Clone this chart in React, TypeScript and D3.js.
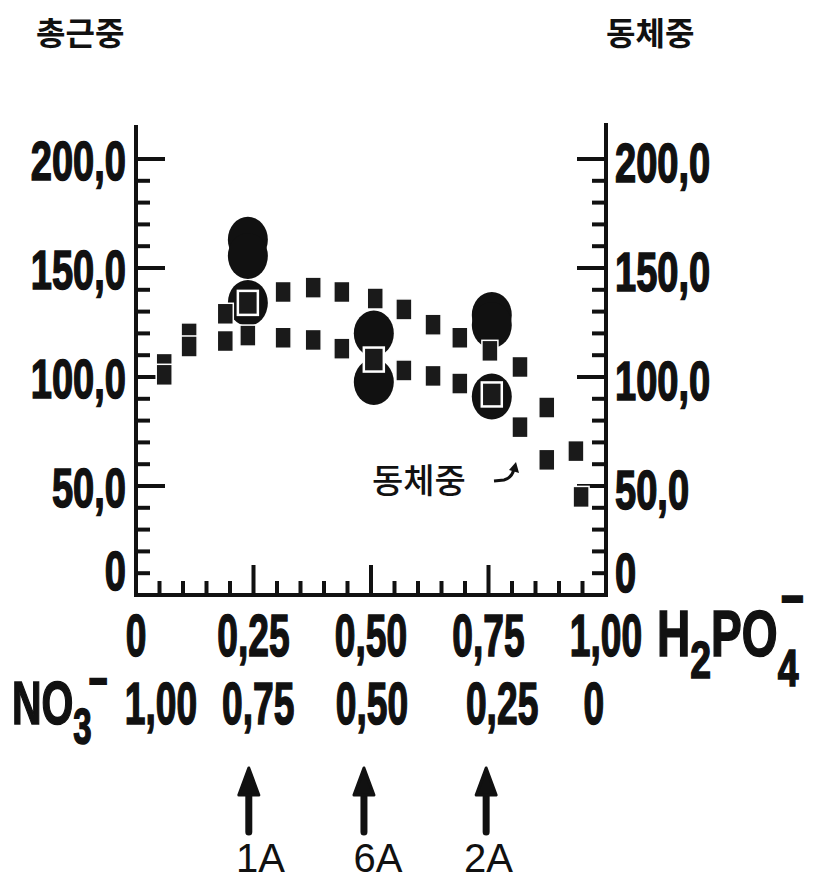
import React from "react";
import * as d3 from "d3";

// H2PO4- fraction axis (bottom), values on both y axes
const squareX = [0.06, 0.06, 0.113, 0.113, 0.19, 0.19, 0.238, 0.313, 0.313, 0.377, 0.377, 0.438, 0.438, 0.509, 0.57, 0.57, 0.632, 0.632, 0.689, 0.689, 0.753, 0.817, 0.817, 0.874, 0.874, 0.936, 0.947];
const squareY = [106, 101, 120, 114, 129, 116.5, 119, 139, 118, 141, 117, 139, 113, 136, 131, 103, 124, 100.5, 118, 97, 112, 104.6, 77, 86, 62, 66, 45];

const circleX = [0.238, 0.238, 0.238, 0.506, 0.506, 0.757, 0.757, 0.757];
const circleY = [163, 155.5, 134, 120, 97.7, 128.4, 123.9, 91];

const markedSquareX = [0.238, 0.506, 0.757];
const markedSquareY = [134, 108, 92];

const yTicks = [0, 50, 100, 150, 200];
const yTickLabels = ["0", "50,0", "100,0", "150,0", "200,0"];
const xTicks = [0, 0.25, 0.5, 0.75, 1];
const xTickLabels = ["0", "0,25", "0,50", "0,75", "1,00"];
const no3Pos = [0.053, 0.26, 0.502, 0.779, 0.974];
const no3Labels = ["1,00", "0,75", "0,50", "0,25", "0"];

const arrowPos = [0.24, 0.485, 0.745];
const arrowLabelPos = [0.265, 0.515, 0.75];
const arrowLabels = ["1A", "6A", "2A"];

const leftTitle = "총근중";
const rightTitle = "동체중";
const annotation = "동체중";

export default function App() {
  const W = 819, H = 888;
  const x = d3.scaleLinear().domain([0, 1]).range([136, 606]);
  const y = d3.scaleLinear().domain([0, 200]).range([595, 159]);
  const xL = x(0), xR = x(1), yB = y(0);
  const minorY = d3.range(10, 201, 10).filter((v) => v % 50 !== 0);
  const minorX = d3.range(1, 20).map((i) => i * 0.05).filter((v) => Math.abs(v % 0.25) > 1e-6 && Math.abs((v % 0.25) - 0.25) > 1e-6);
  const numFont = "'Liberation Sans', Arial, sans-serif";
  const kr = "'Noto Sans CJK KR', sans-serif";
  const sqW = 16, sqH = 21;
  const arrowY0 = 832, arrowTip = 768;

  return (
    <svg width={W} height={H} style={{ display: "block", position: "absolute", left: 0, top: 0, background: "#fff" }}>
      <rect x={0} y={0} width={W} height={H} fill="#fff" />
      {/* titles */}
      <text x={36} y={45} fontFamily={kr} fontWeight={700} fontSize={32} fill="#111">{leftTitle}</text>
      <text x={606} y={45} fontFamily={kr} fontWeight={700} fontSize={32} fill="#111">{rightTitle}</text>

      {/* axes */}
      <g stroke="#111" strokeWidth={4} strokeLinecap="square">
        <line x1={xL} x2={xL} y1={127} y2={yB} />
        <line x1={xR} x2={xR} y1={125} y2={yB} />
        <line x1={xL} x2={xR} y1={yB} y2={yB} />
        {minorY.map((v) => (
          <g key={"my" + v}>
            <line x1={xL} x2={xL + 12} y1={y(v)} y2={y(v)} />
            <line x1={xR} x2={xR - 12} y1={y(v)} y2={y(v)} />
          </g>
        ))}
        {yTicks.filter((v) => v > 0).map((v) => (
          <g key={"My" + v}>
            <line x1={xL} x2={xL + 27} y1={y(v)} y2={y(v)} />
            <line x1={xR} x2={xR - 27} y1={y(v)} y2={y(v)} />
          </g>
        ))}
        {minorX.map((v) => (
          <line key={"mx" + v} x1={x(v)} x2={x(v)} y1={yB} y2={yB - 12} />
        ))}
        {[0.25, 0.5, 0.75].map((v) => (
          <line key={"Mx" + v} x1={x(v)} x2={x(v)} y1={yB} y2={yB - 28} />
        ))}
      </g>

      {/* y tick labels */}
      {yTicks.map((v, i) => {
        const cy = v === 0 ? y(v) - 25 : y(v) + 1;
        return (
          <g key={"yl" + v}>
            <g transform={`translate(${xL - 10},${cy + 20}) scale(0.68,1)`}>
              <text textAnchor="end" fontFamily={numFont} fontWeight={700} fontSize={56} fill="#111" stroke="#111" strokeWidth={1.6}>{yTickLabels[i]}</text>
            </g>
            <g transform={`translate(${xR + 9},${cy + 22}) scale(0.68,1)`}>
              <text textAnchor="start" fontFamily={numFont} fontWeight={700} fontSize={56} fill="#111" stroke="#111" strokeWidth={1.6}>{yTickLabels[i]}</text>
            </g>
          </g>
        );
      })}

      {/* x tick labels (H2PO4-) */}
      {xTicks.map((v, i) => (
        <g key={"xl" + v} transform={`translate(${x(v)},656) scale(0.62,1)`}>
          <text textAnchor="middle" fontFamily={numFont} fontWeight={700} fontSize={60} fill="#111" stroke="#111" strokeWidth={1.6}>{xTickLabels[i]}</text>
        </g>
      ))}
      <g transform="translate(657,656) scale(0.72,1)" fontFamily={numFont} fontWeight={700} fill="#111" stroke="#111" strokeWidth={1.6}>
        <text fontSize={64}>
          H<tspan fontSize={52} dy={22}>2</tspan><tspan dy={-22} fontSize={64}>PO</tspan><tspan fontSize={52} dy={30}>4</tspan>
        </text>
        <text x={172} y={-38} fontSize={56}>−</text>
      </g>

      {/* NO3- labels */}
      <g transform="translate(12,724) scale(0.66,1)" fontFamily={numFont} fontWeight={700} fill="#111" stroke="#111" strokeWidth={1.6}>
        <text fontSize={62}>
          NO<tspan fontSize={50} dy={20}>3</tspan>
        </text>
        <text x={116} y={-26} fontSize={50}>−</text>
      </g>
      {no3Pos.map((v, i) => (
        <g key={"no" + i} transform={`translate(${x(v)},724) scale(0.62,1)`}>
          <text textAnchor="middle" fontFamily={numFont} fontWeight={700} fontSize={60} fill="#111" stroke="#111" strokeWidth={1.6}>{no3Labels[i]}</text>
        </g>
      ))}

      {/* circles */}
      {circleX.map((cx, i) => (
        <ellipse key={"c" + i} cx={x(cx)} cy={y(circleY[i])} rx={20} ry={23} fill="#111" />
      ))}
      {/* squares */}
      {squareX.map((sx, i) => (
        <rect key={"s" + i} x={x(sx) - sqW / 2} y={y(squareY[i]) - sqH / 2} width={sqW} height={sqH} fill="#1a1a1a" stroke="#fff" strokeWidth={1.5} />
      ))}
      {markedSquareX.map((sx, i) => (
        <rect key={"ms" + i} x={x(sx) - 10} y={y(markedSquareY[i]) - 12} width={20} height={24} fill="#1a1a1a" stroke="#fff" strokeWidth={2.5} />
      ))}

      {/* annotation */}
      <text x={372} y={493} fontFamily={kr} fontWeight={500} fontSize={34} fill="#111">{annotation}</text>
      <path d="M494,481 L504,480 Q512,478 514,469" fill="none" stroke="#111" strokeWidth={3} />
      <path d="M509,470 L516,462 L519,473 Z" fill="#111" />

      {/* arrows */}
      {arrowPos.map((v, i) => (
        <g key={"ar" + i}>
          <line x1={x(v)} x2={x(v)} y1={arrowY0} y2={arrowTip + 20} stroke="#111" strokeWidth={7} strokeLinecap="round" />
          <path d={`M${x(v)},${arrowTip} L${x(v) + 10},${arrowTip + 27} L${x(v) - 10},${arrowTip + 27} Z`} fill="#111" stroke="#111" strokeWidth={3} strokeLinejoin="round" />
          <text x={x(arrowLabelPos[i])} y={872} textAnchor="middle" fontFamily={numFont} fontSize={40} fill="#111">{arrowLabels[i]}</text>
        </g>
      ))}
    </svg>
  );
}
